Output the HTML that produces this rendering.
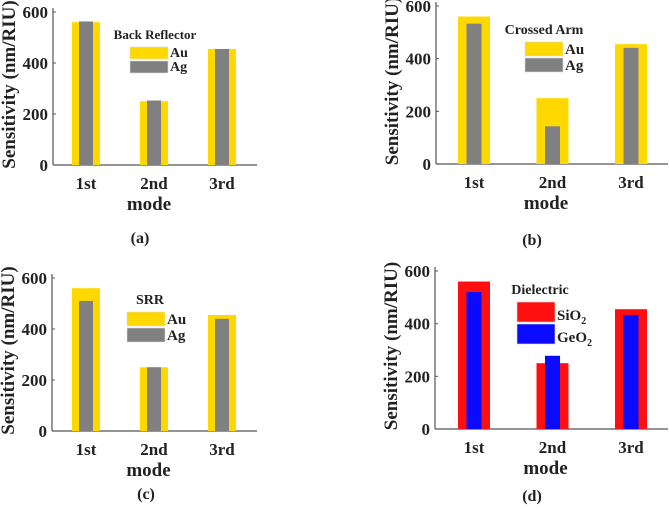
<!DOCTYPE html>
<html><head><meta charset="utf-8"><style>
html,body{margin:0;padding:0;background:#fff;}
svg{display:block;}
svg text{font-family:"Liberation Serif",serif;font-weight:700;}
</style></head><body>
<svg id="fig" width="669" height="512" viewBox="0 0 669 512" xmlns="http://www.w3.org/2000/svg"></svg>
<script>
const modes = ["1st","2nd","3rd"];
const yTicks = [0,200,400,600];
const aOuter = [560,250,455], aInner = [563,253,455];
const bOuter = [560,250,455], bInner = [533,143,441];
const cOuter = [560,250,455], cInner = [510,250,440];
const dOuter = [560,250,455], dInner = [520,278,432];
const aNames = ["Au","Ag"], dNames = ["SiO","GeO"];

const NS="http://www.w3.org/2000/svg";
const svg=document.getElementById('fig');
function mk(tag,attrs,parent,text){const e=document.createElementNS(NS,tag);for(const k in attrs)e.setAttribute(k,attrs[k]);if(tag==='text')e.setAttribute('font-weight','bold');if(text!==undefined)e.textContent=text;(parent||svg).appendChild(e);return e;}

function panel(o){
  const g=mk('g',{});
  
  
  const y=v=>o.y0-(o.y0-o.y600)*v/600;
  const x=i=>o.c0+i*o.step;
  const ax=mk('line',{x1:o.left,y1:o.y600-4,x2:o.left,y2:o.y0,stroke:'#555','stroke-width':1.2},g);
  
  const bx=mk('line',{x1:o.left,y1:o.y0,x2:o.right,y2:o.y0,stroke:'#555','stroke-width':1.2},g);
  
  yTicks.forEach(t=>{
    const tl=mk('line',{x1:o.left,y1:y(t),x2:o.left+3,y2:y(t),stroke:'#555'},g);
    
    const tx=mk('text',{x:o.left-5,y:y(t)+6,'text-anchor':'end','font-size':17,fill:'#222'},g,String(t));
    
  });
  o.outer.forEach((v,i)=>{
    const r=mk('rect',{x:x(i)-o.ow/2,y:y(v),width:o.ow,height:o.y0-y(v),fill:o.c1},g);
    
  });
  o.inner.forEach((v,i)=>{
    const r=mk('rect',{x:x(i)-o.iw/2,y:y(v),width:o.iw,height:o.y0-y(v),fill:o.c2},g);
    
  });
  modes.forEach((m,i)=>{
    const t=mk('text',{x:x(i),y:o.y0+24,'text-anchor':'middle','font-size':17,fill:'#222'},g,m);
    
  });
  const xt=mk('text',{x:(o.left+o.right)/2-6,y:o.y0+45,'text-anchor':'middle','font-size':19,fill:'#222'},g,'mode');
  
  const yt=mk('text',{x:0,y:0,'text-anchor':'middle','font-size':19,fill:'#222',transform:`translate(${o.left-38},${(o.y0+o.y600)/2-4}) rotate(-90)`},g,'Sensitivity (nm/RIU)');
  
  const cap=mk('text',{x:o.capx,y:o.capy,'text-anchor':'middle','font-size':16,fill:'#222'},g,'('+o.id+')');
  
  const L=mk('g',{},g);
  const lt=mk('text',{x:o.lx+19+o.tdx,y:o.ly-8,'text-anchor':'middle','font-size':o.tfs,fill:'#222'},L,o.title);
  
  [[o.c1,o.n1],[o.c2,o.n2]].forEach((p,k)=>{
    const r=mk('rect',{x:o.lx,y:o.ly+k*o.lh,width:38,height:o.lh-2,fill:p[0],stroke:'#ddd','stroke-width':0.6},L);
    
    const t=mk('text',{x:o.lx+40,y:o.ly+k*o.lh+o.lh-4,'font-size':o.tfs+1,fill:'#222'},L,p[1]);
    
    if(o.sub){mk('tspan',{'font-size':10,dy:4},t,'2');}
  });
}
panel({id:'a',left:53,right:257,y0:165,y600:12,c0:86,step:68,ow:28,iw:14,outer:aOuter,inner:aInner,c1:'#ffd800',c2:'#808080',n1:aNames[0],n2:aNames[1],title:'Back Reflector',tdx:6,tfs:13,lx:130,ly:47,lh:14,capx:140,capy:243});
panel({id:'b',left:436,right:668,y0:164,y600:6,c0:474,step:78.5,ow:32,iw:15,outer:bOuter,inner:bInner,c1:'#ffd800',c2:'#808080',n1:aNames[0],n2:aNames[1],title:'Crossed Arm',tdx:0,tfs:14,lx:525,ly:42,lh:16,capx:532,capy:245});
panel({id:'c',left:52,right:257,y0:431,y600:278,c0:86,step:68,ow:28,iw:14,outer:cOuter,inner:cInner,c1:'#ffd800',c2:'#808080',n1:aNames[0],n2:aNames[1],title:'SRR',tdx:4,tfs:14,lx:127,ly:312,lh:16,capx:146,capy:499});
panel({id:'d',left:435,right:668,y0:429,y600:271,c0:474,step:78.5,ow:32,iw:15,outer:dOuter,inner:dInner,c1:'#ff1010',c2:'#0a0aff',n1:dNames[0],n2:dNames[1],sub:true,title:'Dielectric',tdx:4,tfs:14,lx:517,ly:302,lh:22,capx:532,capy:501});
</script>
</body></html>
